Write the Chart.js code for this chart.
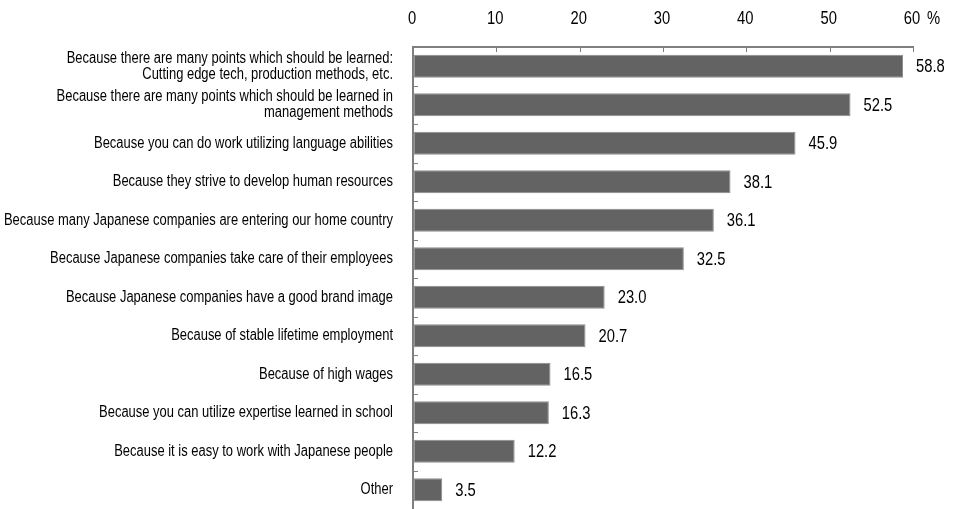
<!DOCTYPE html>
<html>
<head>
<meta charset="utf-8">
<script src="https://cdn.jsdelivr.net/npm/chart.js@4/dist/chart.umd.min.js"></script>
<style>
  html, body { margin: 0; padding: 0; background: #ffffff; }
  #wrap { width: 958px; height: 509px; }
</style>
</head>
<body>
<div id="wrap"><canvas id="c" width="958" height="509"></canvas></div>
<script>
// Reasons given, top to bottom
const reasons = [
  ["Because there are many points which should be learned:", "Cutting edge tech, production methods, etc."],
  ["Because there are many points which should be learned in", "management methods"],
  "Because you can do work utilizing language abilities",
  "Because they strive to develop human resources",
  "Because many Japanese companies are entering our home country",
  "Because Japanese companies take care of their employees",
  "Because Japanese companies have a good brand image",
  "Because of stable lifetime employment",
  "Because of high wages",
  "Because you can utilize expertise learned in school",
  "Because it is easy to work with Japanese people",
  "Other"
];

// Share of respondents (%)
const shares = [58.8, 52.5, 45.9, 38.1, 36.1, 32.5, 23.0, 20.7, 16.5, 16.3, 12.2, 3.5];

// Axis range and step (%)
const axisMin = 0;
const axisMax = 60;
const axisStep = 10;

const FONT = "'Liberation Sans', Arial, sans-serif";
const AXIS_COLOR = '#7f7f7f';

// Text in a condensed cut: the regular face squeezed horizontally.
function narrowText(ctx, text, x, y, align, size, squeeze) {
  ctx.save();
  ctx.translate(x, y);
  ctx.scale(squeeze, 1);
  ctx.font = size + 'px ' + FONT;
  ctx.textAlign = align;
  ctx.textBaseline = 'middle';
  ctx.fillStyle = '#000';
  ctx.fillText(text, 0, 0);
  ctx.restore();
}

// Tick marks pointing into the plot, axis and category labels,
// and the value printed beside each bar.
const decorations = {
  id: 'decorations',
  afterDraw(chart) {
    const ctx = chart.ctx;
    const xs = chart.scales.x;
    const ys = chart.scales.y;
    const area = chart.chartArea;
    ctx.save();
    ctx.strokeStyle = AXIS_COLOR;
    ctx.lineWidth = 1;
    // top axis ticks and their labels
    for (let v = axisMin; v <= axisMax; v += axisStep) {
      const px = Math.round(xs.getPixelForValue(v)) + 0.5;
      ctx.beginPath();
      ctx.moveTo(px, area.top);
      ctx.lineTo(px, area.top + 5);
      ctx.stroke();
      narrowText(ctx, String(v), xs.getPixelForValue(v) - 1, 19, 'center', 18, 0.82);
    }
    narrowText(ctx, '%', xs.getPixelForValue(axisMax) + 14, 19, 'left', 18, 0.82);
    // left axis ticks at category boundaries
    for (let i = 0; i < reasons.length - 1; i++) {
      const py = Math.round((ys.getPixelForValue(i) + ys.getPixelForValue(i + 1)) / 2) + 0.5;
      ctx.beginPath();
      ctx.moveTo(area.left, py);
      ctx.lineTo(area.left + 5, py);
      ctx.stroke();
    }
    // category labels, right-aligned beside the axis
    reasons.forEach((label, i) => {
      const lines = Array.isArray(label) ? label : [label];
      const cy = ys.getPixelForValue(i);
      const lh = 16;
      lines.forEach((line, j) => {
        const y = cy + (j - (lines.length - 1) / 2) * lh;
        narrowText(ctx, line, area.left - 20, y, 'right', 16, 0.81);
      });
    });
    // bar values
    const meta = chart.getDatasetMeta(0);
    meta.data.forEach((bar, i) => {
      narrowText(ctx, shares[i].toFixed(1), bar.x + 13, bar.y + 1, 'left', 18, 0.82);
    });
    ctx.restore();
  }
};

function fixSize(size, vertical) {
  return function (scale) {
    if (vertical) { scale.width = size; } else { scale.height = size; }
    scale.paddingTop = 0;
    scale.paddingBottom = 0;
    scale.paddingLeft = 0;
    scale.paddingRight = 0;
  };
}

new Chart(document.getElementById('c'), {
  type: 'bar',
  data: {
    labels: reasons,
    datasets: [{
      data: shares,
      backgroundColor: '#636363',
      borderColor: '#8c8c8c',
      borderWidth: 1,
      borderSkipped: false,
      barPercentage: 0.6,
      categoryPercentage: 1.0
    }]
  },
  options: {
    indexAxis: 'y',
    responsive: false,
    animation: false,
    devicePixelRatio: 1,
    layout: { padding: { left: 0, right: 45, top: 0, bottom: 0 } },
    plugins: {
      legend: { display: false },
      tooltip: { enabled: false }
    },
    scales: {
      x: {
        position: 'top',
        min: axisMin,
        max: axisMax,
        afterFit: fixSize(47, false),
        grid: { display: true, drawOnChartArea: false, drawTicks: false },
        border: { display: true, color: AXIS_COLOR, width: 2 },
        ticks: { stepSize: axisStep, display: false }
      },
      y: {
        afterFit: fixSize(413, true),
        grid: { display: true, drawOnChartArea: false, drawTicks: false },
        border: { display: true, color: AXIS_COLOR, width: 2 },
        ticks: { display: false, autoSkip: false }
      }
    }
  },
  plugins: [decorations]
});
</script>
</body>
</html>
